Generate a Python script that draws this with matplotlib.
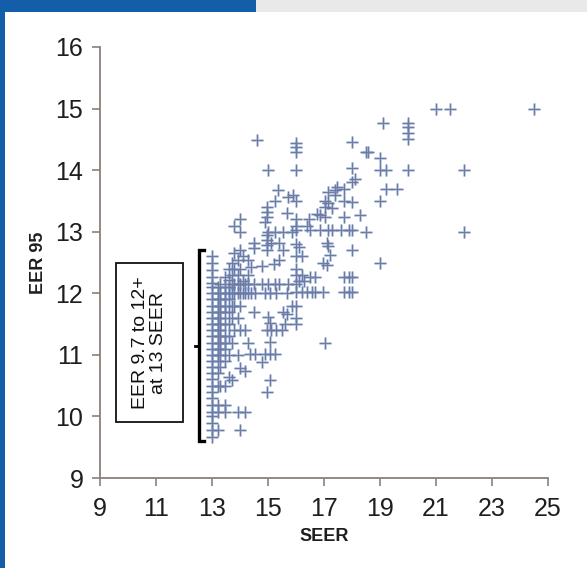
import matplotlib
matplotlib.use("Agg")
import matplotlib.pyplot as plt
from matplotlib.patches import Rectangle
from matplotlib.lines import Line2D

plt.rcParams['font.family'] = ['Liberation Sans', 'DejaVu Sans']

# SEER column positions and the EER values read at each one
col_seer = [13.0, 13.2, 13.3, 13.46, 13.6, 13.7, 13.8, 13.94, 14.0, 14.1, 14.18,
            14.3, 14.36, 14.4, 14.5, 14.54, 14.6, 14.78, 14.9, 14.95, 15.0, 15.07,
            15.1, 15.2, 15.25, 15.3, 15.37, 15.4, 15.5, 15.55, 15.6, 15.67, 15.7,
            15.85, 15.9, 16.0, 16.1, 16.2, 16.3, 16.4, 16.45, 16.5, 16.56, 16.68,
            16.74, 16.86, 16.98, 17.04, 17.1, 17.15, 17.2, 17.3, 17.4, 17.45, 17.6,
            17.7, 17.9, 18.0, 18.1, 18.3, 18.5, 18.56, 19.0, 19.1, 19.2, 19.6,
            20.0, 21.0, 21.5, 22.0, 24.5]
col_eer = [
    [9.67, 9.78, 9.9, 10.0, 10.08, 10.19, 10.3, 10.4, 10.5, 10.6, 10.7, 10.8, 10.9,
     11.0, 11.1, 11.2, 11.3, 11.4, 11.5, 11.6, 11.7, 11.8, 11.9, 12.0, 12.1, 12.16,
     12.27, 12.38, 12.5, 12.6],
    [9.78, 10.08, 10.19, 10.5, 10.7, 10.9, 11.0, 11.1, 11.2, 11.3, 11.4, 11.5, 11.6,
     11.7, 11.8, 11.9, 12.0, 12.1],
    [10.5, 10.8, 11.0, 11.1, 11.2, 11.3, 11.4, 11.5, 11.6, 11.7, 11.8, 11.9, 12.0, 12.15],
    [10.08, 10.19, 10.5, 10.9, 11.1, 11.2, 11.3, 11.5, 11.7, 11.8, 11.9, 12.0, 12.1, 12.27],
    [10.64, 11.0, 11.3, 11.5, 11.7, 11.9, 12.0, 12.1, 12.21, 12.4],
    [10.59, 11.2, 11.6, 11.8, 12.0, 12.15, 12.3, 12.5],
    [11.4, 11.8, 12.0, 12.15, 12.4, 12.65, 13.1],
    [10.08, 11.0, 11.6, 12.0, 12.15, 12.3, 12.54],
    [9.78, 10.78, 11.4, 11.8, 12.0, 12.15, 12.4, 12.7, 13.0, 13.2],
    [12.0, 12.2, 12.6],
    [10.08, 10.73, 11.4, 12.0, 12.15],
    [11.2, 12.0, 12.15, 12.3, 12.54],
    [11.02],
    [12.0, 12.43],
    [11.7, 12.15, 12.73, 12.81],
    [11.02, 12.0],
    [14.49],
    [10.89, 12.15, 12.45],
    [11.02, 12.0, 13.16],
    [10.4, 11.4, 12.7, 12.78, 12.86, 12.94, 13.24, 13.32, 13.4],
    [11.62, 12.15, 13.0, 14.0],
    [10.59, 11.02, 11.21, 11.51, 12.0],
    [11.4, 12.81],
    [12.48],
    [11.02, 12.15, 13.0, 13.5],
    [11.4, 12.0],
    [13.68],
    [12.15, 12.54, 12.81],
    [11.4],
    [11.7, 12.7, 13.0],
    [11.5],
    [11.67, 12.0, 13.3],
    [12.15, 13.57],
    [11.8, 13.0],
    [13.6],
    [11.5, 11.6, 11.8, 12.02, 12.15, 12.3, 12.4, 12.6, 12.8, 13.03, 13.1, 13.2,
     13.5, 14.0, 14.3, 14.37, 14.44],
    [12.2, 12.75],
    [12.02, 12.3, 12.6],
    [12.2],
    [12.02, 13.1],
    [13.2],
    [12.27, 13.03],
    [12.02],
    [12.02, 12.27],
    [13.28],
    [13.03, 13.27],
    [12.02, 12.49],
    [11.19, 13.24, 13.4, 13.5],
    [12.46, 12.81],
    [12.76, 13.03, 13.46, 13.65],
    [12.62],
    [13.03, 13.38],
    [13.6, 13.68],
    [13.73],
    [13.03],
    [12.02, 12.27, 13.24, 13.5, 13.7],
    [12.02, 12.27, 13.03],
    [12.02, 12.27, 12.7, 13.03, 13.49, 13.8, 14.03, 14.45],
    [13.85],
    [13.27],
    [13.0, 14.29],
    [14.29],
    [12.5, 13.5, 14.0, 14.19],
    [14.76],
    [13.7, 14.0],
    [13.7],
    [14.0, 14.5, 14.6, 14.7, 14.76],
    [15.0],
    [15.0],
    [13.0, 14.0],
    [15.0],
]

x_ticks = [9, 11, 13, 15, 17, 19, 21, 23, 25]
y_ticks = [9, 10, 11, 12, 13, 14, 15, 16]
x_label = "SEER"
y_label = "EER 95"
note_text = "EER 9.7 to 12+\nat 13 SEER"
bracket_range = [9.6, 12.7]

seer = [s for s, col in zip(col_seer, col_eer) for _ in col]
eer = [e for col in col_eer for e in col]

W, H = 587, 568
fig = plt.figure(figsize=(W / 100, H / 100), dpi=100)
fig.patch.set_facecolor('white')

# decorative page frame
fig.patches.append(Rectangle((0, 1 - 12 / H), 256 / W, 12 / H, transform=fig.transFigure,
                             facecolor='#135da9', edgecolor='none', zorder=0))
fig.patches.append(Rectangle((256 / W, 1 - 12 / H), 1 - 256 / W, 12 / H, transform=fig.transFigure,
                             facecolor='#e9e9e9', edgecolor='none', zorder=0))
fig.patches.append(Rectangle((0, 0), 5 / W, 1, transform=fig.transFigure,
                             facecolor='#135da9', edgecolor='none', zorder=0))

ax = fig.add_axes([100 / W, (H - 478) / H, 448 / W, 431 / H])
ax.set_facecolor('none')

ax.plot(seer, eer, linestyle='none', marker='+', markersize=8, markeredgewidth=2.2,
        color='#4f8fd6', alpha=0.32, zorder=2)
ax.plot(seer, eer, linestyle='none', marker='+', markersize=8, markeredgewidth=0.9,
        color='#75789c', zorder=3)

ax.set_xlim(9, 25)
ax.set_ylim(9, 16)
ax.set_xticks(x_ticks)
ax.set_yticks(y_ticks)
ax.tick_params(axis='both', labelsize=18, colors='#8a807c', labelcolor='#1e1e1e',
               length=6, width=1.2)
ax.tick_params(axis='x', pad=8)
ax.tick_params(axis='y', pad=6)
for side in ['top', 'right']:
    ax.spines[side].set_visible(False)
for side in ['left', 'bottom']:
    ax.spines[side].set_color('#8a807c')
    ax.spines[side].set_linewidth(1.3)

ax.set_xlabel(x_label, fontsize=13, fontweight='bold', color='#1e1e1e', labelpad=5)
ax.set_ylabel(y_label, fontsize=13, fontweight='bold', color='#1e1e1e', labelpad=6)

# annotation box with rotated note
ax.add_patch(Rectangle((9.57, 9.91), 2.39, 2.58, facecolor='white', edgecolor='#111111',
                       linewidth=1.3, zorder=4))
ax.text(10.77, 11.2, note_text, rotation=90, ha='center', va='center', fontsize=14,
        linespacing=1.05, color='#111111', zorder=5)

# bracket
bx = 12.54
lo, hi = bracket_range
mid = (lo + hi) / 2
ax.add_line(Line2D([bx + 0.18, bx, bx, bx + 0.18], [hi, hi, lo, lo], color='black',
                   linewidth=2.4, solid_joinstyle='miter', zorder=5))
ax.add_line(Line2D([bx, bx - 0.15], [mid, mid], color='black', linewidth=2.0, zorder=5))

fig.savefig('out.png', dpi=100)
